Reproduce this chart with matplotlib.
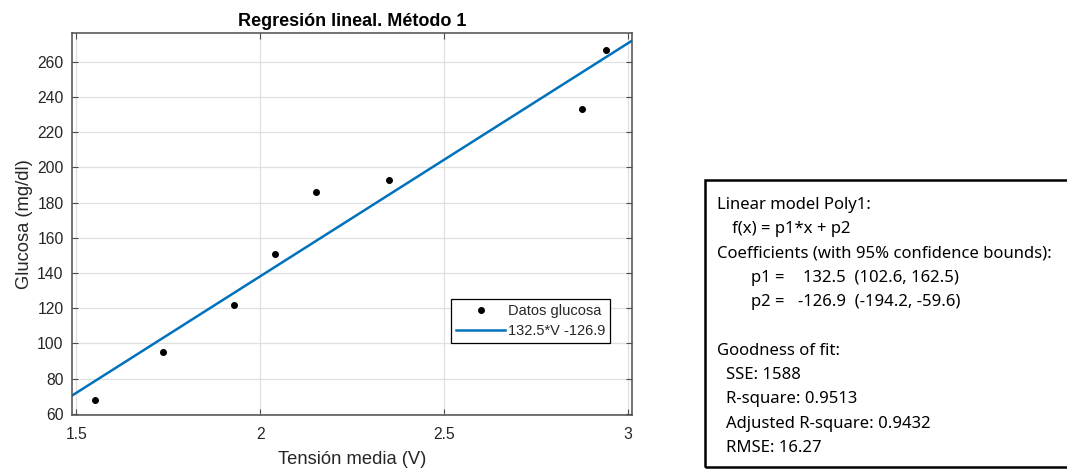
import numpy as np
import matplotlib
matplotlib.use("Agg")
import matplotlib.pyplot as plt
from matplotlib.patches import Rectangle

# data
tension = [1.552, 1.736, 1.929, 2.041, 2.152, 2.350, 2.875, 2.940]
glucosa = [68, 95, 122, 151, 186, 193, 233, 267]
p1, p2 = 132.5, -126.9

xticks = [1.5, 2, 2.5, 3]
xticklabels = ["1.5", "2", "2.5", "3"]
yticks = [60, 80, 100, 120, 140, 160, 180, 200, 220, 240, 260]

plt.rcParams.update({"font.family": ["Liberation Sans", "DejaVu Sans"]})
gray = "#262626"
spine_gray = "#4d4d4d"

fig = plt.figure(figsize=(10.67, 4.71), dpi=100)
ax = fig.add_axes([0.0675, 0.1189, 0.5248, 0.8117])

xlim = (1.4886, 3.011)
ax.plot(tension, glucosa, "k.", markersize=8, label="Datos glucosa")
xx = np.array(xlim)
ax.plot(xx, p1 * xx + p2, color="#0072BD", lw=1.8, label="132.5*V -126.9")
ax.set_xlim(*xlim)
ax.set_ylim(59.3, 276.6)
ax.set_xticks(xticks)
ax.set_xticklabels(xticklabels)
ax.set_yticks(yticks)
ax.grid(True, color="#e0e0e0", lw=0.9)
ax.set_axisbelow(True)
ax.tick_params(direction="in", top=True, right=True, labelsize=11.3,
               labelcolor=gray, color=spine_gray, length=4)
ax.tick_params(axis="x", pad=9)
ax.tick_params(axis="y", pad=6)
for s in ax.spines.values():
    s.set_color(spine_gray)
    s.set_linewidth(1.1)
ax.set_xlabel("Tensión media (V)", fontsize=13.2, color=gray, labelpad=6)
ax.set_ylabel("Glucosa (mg/dl)", fontsize=13.2, color=gray, labelpad=3)
ax.set_title("Regresión lineal. Método 1", fontsize=13, fontweight="bold", pad=5)

leg = ax.legend(loc="lower right", bbox_to_anchor=(0.961, 0.188),
                borderaxespad=0, fontsize=10.5, fancybox=False,
                edgecolor="black", framealpha=1, handlelength=3.4,
                borderpad=0.35, labelspacing=0.4, handletextpad=0.15)
leg.get_frame().set_linewidth(0.9)
for t in leg.get_texts():
    t.set_color(gray)

# fit summary box on the right
W, H = 1067, 471
fig.patches.append(Rectangle((705 / W, 1 - 467 / H), 400 / W, 287 / H,
                             transform=fig.transFigure, fill=False,
                             edgecolor="black", lw=1.8))

box_font = dict(fontsize=12, family="Noto Sans", color="black", va="center")
rows = [
    ("Linear model Poly1:", 717, 205),
    ("f(x) = p1*x + p2", 732, 229),
    ("Coefficients (with 95% confidence bounds):", 717, 254),
    ("p1 =", 751, 278),
    ("132.5  (102.6, 162.5)", 803, 278),
    ("p2 =", 751, 302),
    ("-126.9  (-194.2, -59.6)", 798, 302),
    ("Goodness of fit:", 717, 351),
    ("SSE: 1588", 726, 375),
    ("R-square: 0.9513", 726, 399),
    ("Adjusted R-square: 0.9432", 726, 424),
    ("RMSE: 16.27", 726, 448),
]
for txt, px, py in rows:
    fig.text(px / W, 1 - py / H, txt, **box_font)

fig.savefig("out.png", dpi=100)
